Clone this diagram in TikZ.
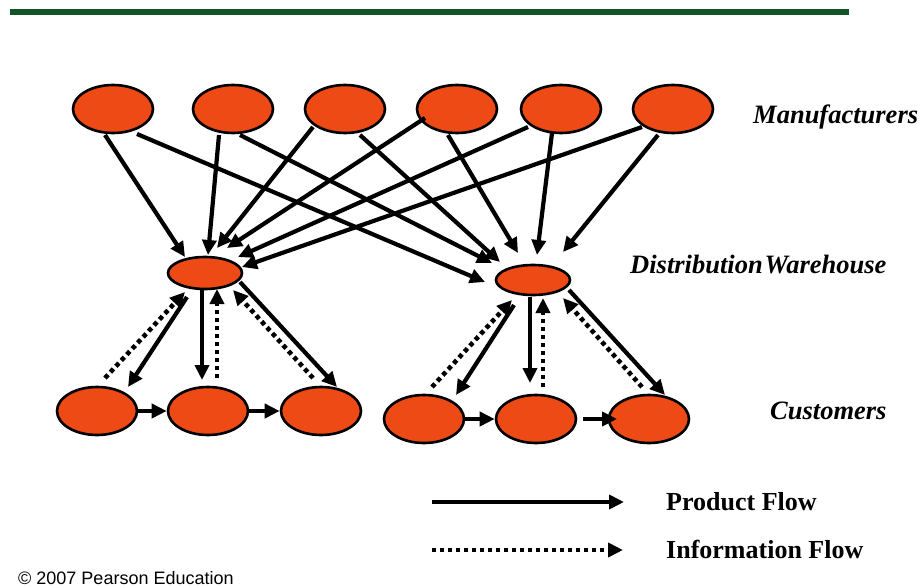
\documentclass[tikz,border=0pt]{standalone}
\usepackage{fontspec}
\setmainfont{Liberation Serif}
\newfontfamily\credfont{Liberation Sans}
\usetikzlibrary{shapes.geometric,arrows.meta,calc}
\definecolor{nodefill}{RGB}{238,74,22}
\definecolor{rulegreen}{RGB}{18,84,40}

\begin{document}
\begin{tikzpicture}[x=1pt,y=-1pt,
  site/.style={ellipse,draw=black,line width=2.6pt,fill=nodefill,
    minimum width=80pt,minimum height=48pt,inner sep=0pt},
  depot/.style={site,minimum width=74pt,minimum height=31pt},
  product/.style={line width=4.2pt,-{Triangle[length=15pt,width=14pt]}},
  info/.style={line width=4.6pt,dash pattern=on 4.4pt off 3.6pt,
    -{Triangle[length=15pt,width=14pt]}},
  tier/.style={font=\fontsize{26.5}{30}\selectfont\bfseries\itshape,
    inner sep=0pt,anchor=base west},
  legendtext/.style={font=\fontsize{26}{30}\selectfont\bfseries,
    inner sep=0pt,anchor=base west}]
\useasboundingbox (0,0) rectangle (921,586);

% header rule
\fill[rulegreen] (10,9) rectangle (849,15.5);

% manufacturers
\node[site] (m1) at (113,109) {};
\node[site] (m2) at (233,109) {};
\node[site] (m3) at (345,109) {};
\node[site] (m4) at (457,109) {};
\node[site] (m5) at (561,109) {};
\node[site] (m6) at (673,109) {};

% warehouses
\node[depot,minimum height=32pt] (w1) at (205,273) {};
\node[depot,minimum height=30pt] (w2) at (533,280) {};

% customers
\node[site] (c1) at (97,411) {};
\node[site] (c2) at (208,411) {};
\node[site] (c3) at (321,411) {};
\node[site] (c4) at (424,419) {};
\node[site] (c5) at (536,419) {};
\node[site] (c6) at (649,419) {};

% tier labels
\node[tier] (lblm) at (753,123) {Manufacturers};
\node[tier] (lblw) at (630,273) {Distribution\kern2ptWarehouse};
\node[tier] (lblc) at (770,419) {Customers};

% manufacturers to warehouses
\draw[product] ($(m1)+(-8,26)$)  -- ($(w1)+(-20,-16)$);
\draw[product] ($(m1)+(24,25)$)  -- ($(w2)+(-48,2)$);
\draw[product] ($(m2)+(-14,26)$) -- ($(w1)+(3,-18)$);
\draw[product] ($(m2)+(7,26)$)   -- ($(w2)+(-41,-17)$);
\draw[product] ($(m3)+(-32,18)$) -- ($(w1)+(12,-25)$);
\draw[product] ($(m3)+(15,26)$)  -- ($(w2)+(-33,-18)$);
\draw[product] ($(m4)+(-32,9)$)  -- ($(w1)+(22,-25)$);
\draw[product] ($(m4)+(-9,26)$)  -- ($(w2)+(-15,-27)$);
\draw[product] ($(m5)+(-33,18)$) -- ($(w1)+(33,-16)$);
\draw[product] ($(m5)+(-9,24)$)  -- ($(w2)+(4,-25)$);
\draw[product] ($(m6)+(-31,18)$) -- ($(w1)+(37,-6)$);
\draw[product] ($(m6)+(-15,26)$) -- ($(w2)+(30,-28)$);

% left warehouse and its customers
\draw[info]    ($(c1)+(8,-33)$)  -- ($(w1)+(-20,19)$);
\draw[product] ($(w1)+(-18,24)$) -- ($(c1)+(31,-24)$);
\draw[product] ($(w1)+(-3,16)$)  -- ($(c2)+(-6,-31)$);
\draw[info]    ($(c2)+(9,-33)$)  -- ($(w1)+(12,16)$);
\draw[info]    ($(c3)+(-8,-33)$) -- ($(w1)+(28,17)$);
\draw[product] ($(w1)+(35,9)$)   -- ($(c3)+(16,-24)$);
\draw[product] (c1) -- (c2);
\draw[product] (c2) -- (c3);

% right warehouse and its customers
\draw[info]    ($(c4)+(8,-32)$)  -- ($(w2)+(-21,20)$);
\draw[product] ($(w2)+(-19,25)$) -- ($(c4)+(32,-24)$);
\draw[product] ($(w2)+(-3,17)$)  -- ($(c5)+(-6,-36)$);
\draw[info]    ($(c5)+(7,-32)$)  -- ($(w2)+(10,18)$);
\draw[info]    ($(c6)+(-7,-32)$) -- ($(w2)+(30,18)$);
\draw[product] ($(w2)+(36,10)$)  -- ($(c6)+(16,-24)$);
\draw[product] (c4) -- (c5);
\draw[product] ($(c5)+(47,0)$) -- ($(c6)+(-32,0)$);

% legend
\coordinate (pa) at (432,502);
\coordinate (pb) at (624,502);
\coordinate (ia) at (432,550);
\coordinate (ib) at (623,550);
\draw[product] (pa) -- (pb);
\draw[info] (ia) -- (ib);
\node[legendtext] (lblp) at (666,510) {Product Flow};
\node[legendtext] (lbli) at (666,558) {Information Flow};

% credit line
\node[font=\credfont\fontsize{18}{20}\selectfont,inner sep=0pt,anchor=base west]
  (credit) at (18,584) {© 2007 Pearson Education};
\end{tikzpicture}
\end{document}
